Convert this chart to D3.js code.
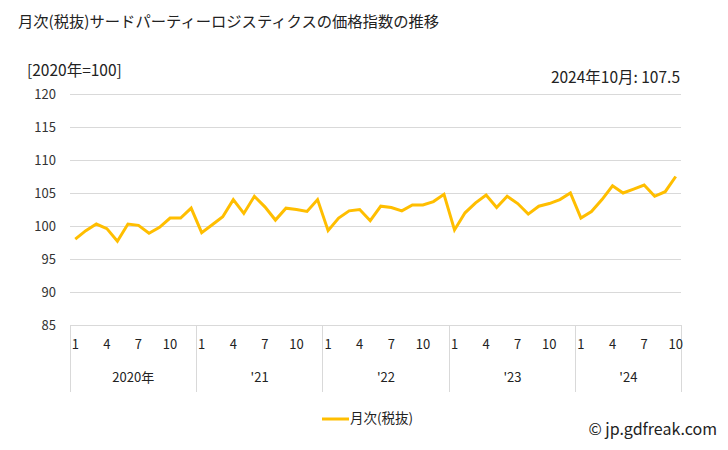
<!DOCTYPE html>
<html><head><meta charset="utf-8">
<script src="https://cdn.jsdelivr.net/npm/d3@7"></script>
<style>body{margin:0;background:#fff;}svg{display:block;font-family:"Noto Sans CJK JP","Noto Sans",sans-serif;}</style>
</head><body>
<svg id="c" width="728" height="450"></svg>
<script>
const years = ["2020年","'21","'22","'23","'24"];
const monthTicks = [1,4,7,10];
const yTicks = [85,90,95,100,105,110,115,120];
const values = [
 98.0,99.3,100.3,99.6,97.7,100.3,100.1,98.9,99.8,101.2,101.2,102.7,
 99.0,100.2,101.4,104.0,101.9,104.5,102.9,100.9,102.7,102.5,102.2,104.0,
 99.3,101.2,102.3,102.5,100.8,103.0,102.8,102.3,103.2,103.2,103.7,104.8,
 99.4,102.0,103.5,104.7,102.8,104.5,103.4,101.8,103.0,103.4,104.0,105.0,
 101.2,102.2,104.0,106.1,105.0,105.6,106.2,104.5,105.2,107.5
];
const seriesName = "月次(税抜)";
const title = "月次(税抜)サードパーティーロジスティクスの価格指数の推移";

const svg = d3.select("#c");
const L = 70, R = 681, T = 94, B = 325;
const idx = d3.range(values.length);
const x = d3.scaleBand().domain(idx).range([L, R]);
const y = d3.scaleLinear().domain([85,120]).range([B, T]);
const cx = i => x(i) + x.bandwidth()/2;

svg.append("text").attr("x",18).attr("y",27).attr("font-size",15.3).attr("fill","#222").text(title);
svg.append("text").attr("x",27).attr("y",76).attr("font-size",15.5).attr("fill","#222").text("[2020年=100]");
svg.append("text").attr("x",680).attr("y",83).attr("text-anchor","end").attr("font-size",15.5).attr("fill","#222")
  .text("2024年10月: " + values[values.length-1].toFixed(1));

// grid
svg.append("g").selectAll("line").data(yTicks).join("line")
  .attr("x1",L).attr("x2",R).attr("y1",d=>y(d)).attr("y2",d=>y(d))
  .attr("stroke","#d9d9d9").attr("stroke-width",1).attr("shape-rendering","crispEdges");
svg.append("g").selectAll("text").data(yTicks).join("text")
  .attr("x",56).attr("y",d=>y(d)+5).attr("text-anchor","end").attr("font-size",13).attr("fill","#333")
  .text(d=>d);

// x axis year dividers
const bounds = [];
for (let k=0;k<=years.length;k++){ bounds.push(Math.min(k*12, values.length)); }
svg.append("g").selectAll("line").data(bounds).join("line")
  .attr("x1",d=> d===values.length ? R : x(d)).attr("x2",d=> d===values.length ? R : x(d))
  .attr("y1",B).attr("y2",392).attr("stroke","#d9d9d9").attr("shape-rendering","crispEdges");
const mt = idx.filter(i => monthTicks.includes(i%12+1));
svg.append("g").selectAll("text").data(mt).join("text")
  .attr("x",d=>cx(d)).attr("y",349).attr("text-anchor","middle").attr("font-size",13).attr("fill","#222")
  .text(d=>d%12+1);
svg.append("g").selectAll("text").data(years).join("text")
  .attr("x",(d,k)=>{const a=x(k*12); const e=Math.min((k+1)*12,values.length); const b=e===values.length?R:x(e); return (a+b)/2;})
  .attr("y",382).attr("text-anchor","middle").attr("font-size",13).attr("fill","#222").text(d=>d);

// line
svg.append("path").datum(values)
  .attr("d", d3.line().x((d,i)=>cx(i)).y(d=>y(d)))
  .attr("fill","none").attr("stroke","#FFBE00").attr("stroke-width",3).attr("stroke-linejoin","miter");

// legend
svg.append("line").attr("x1",322).attr("x2",349).attr("y1",419).attr("y2",419).attr("stroke","#FFBE00").attr("stroke-width",3);
svg.append("text").attr("x",350).attr("y",423).attr("font-size",13.5).attr("fill","#222").text(seriesName);
svg.append("text").attr("x",717).attr("y",435).attr("text-anchor","end").attr("font-size",16).attr("fill","#222").text("© jp.gdfreak.com");
</script>
</body></html>
